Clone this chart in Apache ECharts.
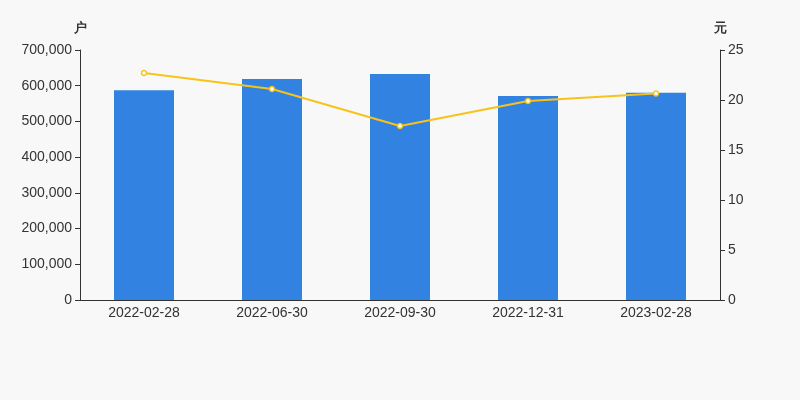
<!DOCTYPE html>
<html><head><meta charset="utf-8">
<script src="https://cdn.jsdelivr.net/npm/echarts@6/dist/echarts.min.js"></script>
<style>html,body{margin:0;padding:0;background:#f8f8f8;}#c{width:800px;height:400px;}</style>
</head><body><div id="c"></div>
<script>
var categories = ['2022-02-28','2022-06-30','2022-09-30','2022-12-31','2023-02-28'];
var holders = [587000, 619000, 633000, 571000, 580000];
var avgValue = [22.7, 21.1, 17.4, 19.9, 20.65];

var chart = echarts.init(document.getElementById('c'));
chart.setOption({
  backgroundColor: '#f8f8f8',
  animation: false,
  grid: {left: 80, right: 80, top: 50, bottom: 100},
  xAxis: {
    type: 'category', data: categories,
    axisLine: {lineStyle: {color: '#333'}},
    axisTick: {lineStyle: {color: '#333'}},
    axisLabel: {color: '#333', fontSize: 14, margin: 6}
  },
  yAxis: [{
    type: 'value', name: '户', min: 0, max: 700000, interval: 100000,
    nameTextStyle: {color: '#333', fontSize: 13, fontWeight: 'bold', align: 'center'},
    nameGap: 15,
    axisLine: {show: true, lineStyle: {color: '#333'}},
    axisTick: {show: true, lineStyle: {color: '#333'}},
    splitLine: {show: false},
    axisLabel: {color: '#333', fontSize: 14, formatter: function(v){return v.toLocaleString('en-US');}}
  }, {
    type: 'value', name: '元', min: 0, max: 25, interval: 5,
    nameTextStyle: {color: '#333', fontSize: 13, fontWeight: 'bold', align: 'center'},
    nameGap: 15,
    axisLine: {show: true, lineStyle: {color: '#333'}},
    axisTick: {show: true, lineStyle: {color: '#333'}},
    splitLine: {show: false},
    axisLabel: {color: '#333', fontSize: 14}
  }],
  series: [{
    type: 'bar', data: holders, barWidth: 60, yAxisIndex: 0,
    itemStyle: {color: '#3282e1'}
  }, {
    type: 'line', data: avgValue, yAxisIndex: 1,
    symbol: 'circle', symbolSize: 5,
    itemStyle: {color: '#ffffff', borderColor: '#f7c31a', borderWidth: 1.5},
    lineStyle: {color: '#f7c31a', width: 2}
  }]
});
</script></body></html>
